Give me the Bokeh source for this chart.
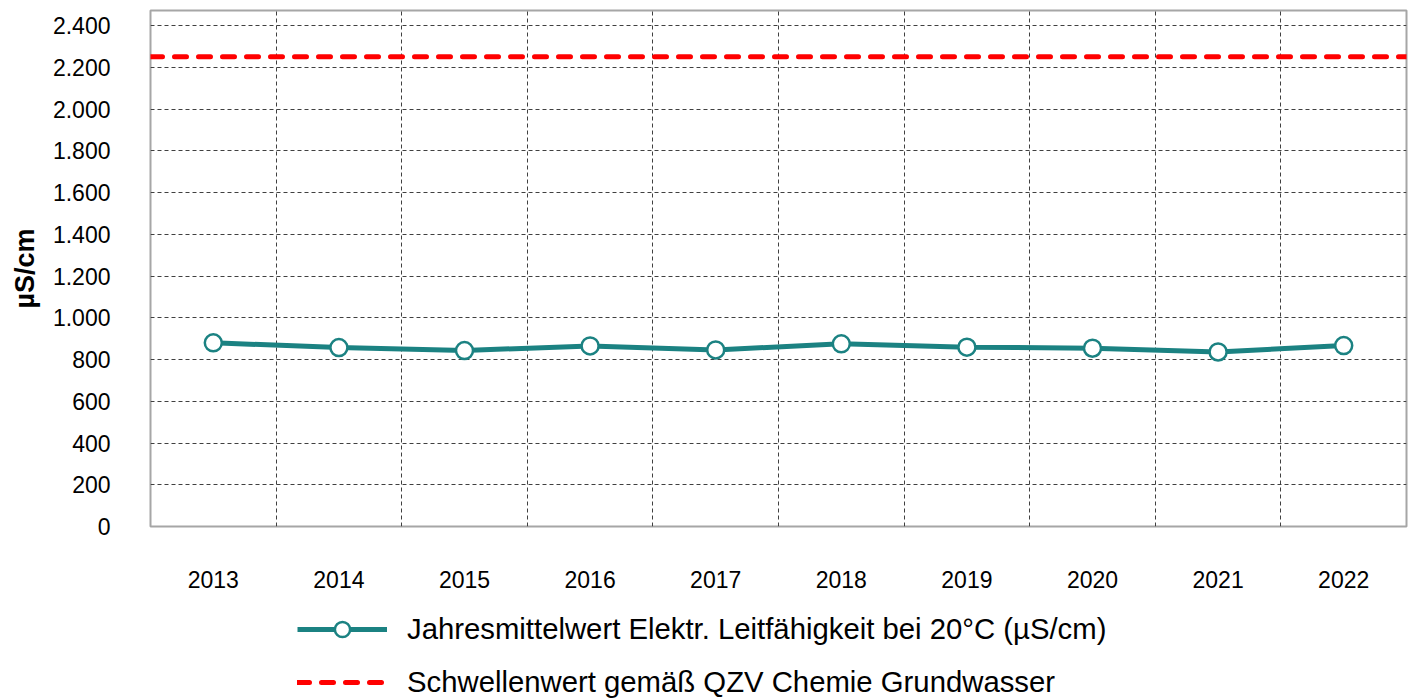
import numpy as np
from bokeh.plotting import figure
from bokeh.layouts import column
from bokeh.models import Range1d, FixedTicker, CustomJSTickFormatter, Legend, LegendItem
from bokeh.embed import file_html
from bokeh.resources import INLINE

# ---- data ----
years = ["2013", "2014", "2015", "2016", "2017", "2018", "2019", "2020", "2021", "2022"]
conductivity = [880, 857, 843, 865, 846, 875, 859, 854, 836, 867]
threshold = 2250
y_ticks = [0, 200, 400, 600, 800, 1000, 1200, 1400, 1600, 1800, 2000, 2200, 2400]
label_series = "Jahresmittelwert Elektr. Leitfähigkeit bei 20°C (µS/cm)"
label_threshold = "Schwellenwert gemäß QZV Chemie Grundwasser"
y_title = "µS/cm"

FONT = "Liberation Sans"
TEAL = "#1b8282"
RED = "#ff0000"
GRID = "#404040"

n = len(years)
x_centers = [i + 0.5 for i in range(n)]
x_bounds = list(range(1, n))


def add_series(fig):
    thr = fig.line(x=[0, n], y=[threshold, threshold], line_color=RED, line_width=5,
                   line_dash="12 12", line_cap="round")
    ln = fig.line(x=x_centers, y=conductivity, line_color=TEAL, line_width=5)
    pts = fig.scatter(x=x_centers, y=conductivity, size=17, fill_color="white",
                      line_color=TEAL, line_width=2.5)
    return thr, ln, pts


p = figure(width=1408, height=596, output_backend="svg", toolbar_location=None,
           x_range=Range1d(0, n), y_range=Range1d(0, 2472),
           min_border_left=150, min_border_right=2, min_border_top=10, min_border_bottom=70,
           background_fill_color="white", border_fill_color="white")
add_series(p)

# grids
p.xgrid.ticker = FixedTicker(ticks=x_bounds)
p.ygrid.ticker = FixedTicker(ticks=y_ticks)
for g in (p.xgrid, p.ygrid):
    g.grid_line_color = GRID
    g.grid_line_dash = "4 3"
    g.grid_line_width = 1

p.outline_line_color = "#a6a6a6"
p.outline_line_width = 2

# axes
xa = p.xaxis[0]
xa.ticker = FixedTicker(ticks=x_centers)
xa.major_label_overrides = {c: y for c, y in zip(x_centers, years)}
ya = p.yaxis[0]
ya.ticker = FixedTicker(ticks=y_ticks)
ya.formatter = CustomJSTickFormatter(code="return Math.round(tick).toString().replace(/\\B(?=(\\d{3})+(?!\\d))/g, '.');")
ya.axis_label = y_title
ya.axis_label_text_font = FONT
ya.axis_label_text_font_size = "27px"
ya.axis_label_text_font_style = "bold"
ya.axis_label_text_color = "black"
ya.axis_label_standoff = 10
for ax in (xa, ya):
    ax.axis_line_color = None
    ax.major_tick_line_color = None
    ax.minor_tick_line_color = None
    ax.major_tick_out = 0
    ax.major_tick_in = 0
    ax.major_label_text_font = FONT
    ax.major_label_text_font_size = "23px"
    ax.major_label_text_color = "black"
xa.major_label_standoff = 44
ya.major_label_standoff = 40

# ---- legend figure (same series, drawn out of view; only the legend shows) ----
lf = figure(width=1408, height=102, output_backend="svg", toolbar_location=None,
            x_range=Range1d(-2, -1), y_range=Range1d(-2, -1),
            x_axis_type=None, y_axis_type=None,
            min_border_left=0, min_border_right=0, min_border_top=0, min_border_bottom=0,
            background_fill_color="white", border_fill_color="white", outline_line_color=None)
lf.xgrid.visible = False
lf.ygrid.visible = False
lthr, lln, lpts = add_series(lf)

legend = Legend(items=[LegendItem(label=label_series, renderers=[lln, lpts]),
                       LegendItem(label=label_threshold, renderers=[lthr])],
                location=(147, -3), orientation="vertical",
                glyph_width=90, glyph_height=38, label_height=38, spacing=15,
                padding=0, margin=0, border_line_color=None, background_fill_alpha=0,
                label_text_font=FONT, label_text_font_size="29.3px", label_text_color="black",
                label_standoff=20)
lf.add_layout(legend)

open("out.html", "w").write(file_html(column(p, lf, spacing=0), INLINE))
